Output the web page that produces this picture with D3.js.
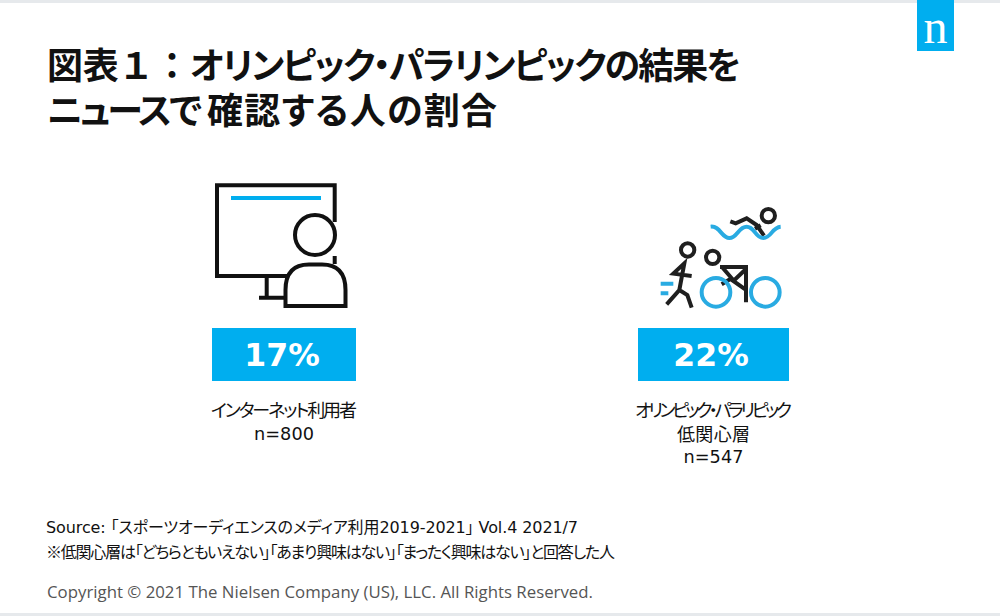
<!DOCTYPE html>
<html><head><meta charset="utf-8">
<script src="https://cdn.jsdelivr.net/npm/d3@7"></script>
<style>
html,body{margin:0;padding:0;background:#fff;overflow:hidden}
text{font-family:"Noto Sans CJK JP","DejaVu Sans",sans-serif;fill:#111}
</style></head><body><svg id="c" width="1000" height="616"></svg>
<script>
const titleParts = ["図表\uFF11\uFF1A","オリンピック・パラリンピックの結果を","ニュースで","確認する人の割合"];
const categoryLabels = [["インターネット利用者"],["オリンピック・パラリピック","低関心層"]];
const sampleLabels = ["n=800","n=547"];
const shareValues = [17,22];
const sourceLine = "Source: 「スポーツオーディエンスのメディア利用2019-2021」 Vol.4 2021/7";
const noteLine = "※低関心層は「どちらともいえない」「あまり興味はない」「まったく興味はない」と回答した人";
const copyrightLine = "Copyright © 2021 The Nielsen Company (US), LLC. All Rights Reserved.";

const BLUE="#00aeef", INK="#111", BAND="#e6e9ec";
const svg=d3.select("#c");
const x=d3.scalePoint().domain(d3.range(shareValues.length)).range([284,713.5]);
const w=d3.scaleLinear().domain([17,22]).range([144,151]);

svg.selectAll("rect.band").data([0,613]).join("rect").attr("class","band")
  .attr("x",0).attr("y",d=>d).attr("width",1000).attr("height",3).attr("fill",BAND);
svg.append("rect").attr("x",917).attr("y",0).attr("width",37).attr("height",51).attr("fill",BLUE);
svg.append("text").attr("x",935.5).attr("y",43).attr("text-anchor","middle")
  .style("font-family","'Liberation Serif',serif").style("font-size","48px").style("fill","#fff").text("n");

const titleX=[47,190,47,207], titleY=[79,79,124,124], titleW=[143,551,155,290];
const title=svg.append("text").attr("class","title").style("font-size","36px").style("font-weight",700);
title.selectAll("tspan").data(titleParts).join("tspan")
  .attr("x",(d,i)=>titleX[i]).attr("y",(d,i)=>titleY[i])
  .attr("textLength",(d,i)=>titleW[i]).attr("lengthAdjust","spacing")
  .style("font-feature-settings",(d,i)=>i==0?"normal":"'palt'")
  .text(d=>d);

// monitor + person icon
const a=svg.append("g").attr("fill","none").attr("stroke",INK).attr("stroke-width",4);
a.append("path").attr("d","M334.7,222V185.3H217V276H287");
a.append("path").attr("d","M334.7,256V264");
a.append("path").attr("d","M266.7,278V297.7M259,297.7H285");
a.append("rect").attr("x",231).attr("y",196).attr("width",90).attr("height",4).attr("fill",BLUE).attr("stroke","none");
a.append("circle").attr("cx",315).attr("cy",235).attr("r",20).attr("fill","#fff");
a.append("path").attr("fill","#fff").attr("d","M285.5,306V290Q285.5,264.5 309,264.5H322Q345.5,264.5 345.5,290V306Z");

// triathlon icon
const t=svg.append("g").attr("transform","translate(640,195) scale(0.3333)").attr("fill","none")
  .attr("stroke-width",12);
const ink=t.append("g").attr("stroke","#1f1f1f");
const blue=t.append("g").attr("stroke","#29abe2");
blue.append("path").attr("d","M212,95C240,92 245,129 268,129C292,129 295,95 320,95C345,95 345,129 370,129C395,129 395,97 422,95");
blue.append("circle").attr("cx",228).attr("cy",292).attr("r",43);
blue.append("circle").attr("cx",376).attr("cy",292).attr("r",43);
blue.append("path").attr("d","M62,266H100M62,295H85");
ink.append("circle").attr("cx",385).attr("cy",62).attr("r",20);
ink.append("path").attr("d","M271,79L287,85L320,70L350,90L372,122M345,101L362,91");
ink.append("circle").attr("cx",143).attr("cy",165).attr("r",20);
ink.append("path").attr("d","M155,243L100,236L133,205L118,285L80,328M118,285L142,300L155,338");
ink.append("circle").attr("cx",218).attr("cy",187).attr("r",20);
ink.append("path").attr("d","M240,216H318V322M318,222L280,258L318,285M246,216L275,250L245,268");

// value boxes
const cards=svg.selectAll("g.card").data(shareValues).join("g").attr("class","card");
cards.append("rect").attr("x",d=>x(shareValues.indexOf(d))-w(d)/2).attr("y",328)
  .attr("width",d=>w(d)).attr("height",53).attr("fill",BLUE);
cards.append("text").attr("x",(d,i)=>x(i)-(i?2.5:2)).attr("y",366).attr("text-anchor","middle")
  .style("font-family","'DejaVu Sans'").style("font-weight",700).style("font-size","31.5px").style("fill","#fff")
  .text(d=>d+"%");

// labels
const labelW=[[146],[157,73]];
cards.each(function(d,i){
  const g=d3.select(this), lines=categoryLabels[i];
  g.selectAll("text.lab").data(lines).join("text").attr("class","lab")
    .attr("x",x(i)).attr("y",(_,k)=>417+k*23.5).attr("text-anchor","middle")
    .attr("textLength",(l,k)=>labelW[i][k])
    .style("font-size","18px").style("font-feature-settings","'palt'").text(l=>l);
  g.append("text").attr("x",x(i)).attr("y",416+lines.length*23.5).attr("text-anchor","middle")
    .style("font-family","'DejaVu Sans'").style("font-size","17.7px").text(sampleLabels[i]);
});

svg.append("text").attr("x",46).attr("y",533).attr("textLength",532).style("font-size","16px")
  .style("font-feature-settings","'palt'").style("font-family","'DejaVu Sans','Noto Sans CJK JP'").text(sourceLine);
svg.append("text").attr("x",46).attr("y",558).attr("textLength",569).style("font-size","16px")
  .style("font-feature-settings","'palt'").text(noteLine);
svg.append("text").attr("x",47).attr("y",598).attr("textLength",546).style("font-size","16.8px")
  .style("font-family","'Open Sans'").style("fill","#555").text(copyrightLine);
</script></body></html>
